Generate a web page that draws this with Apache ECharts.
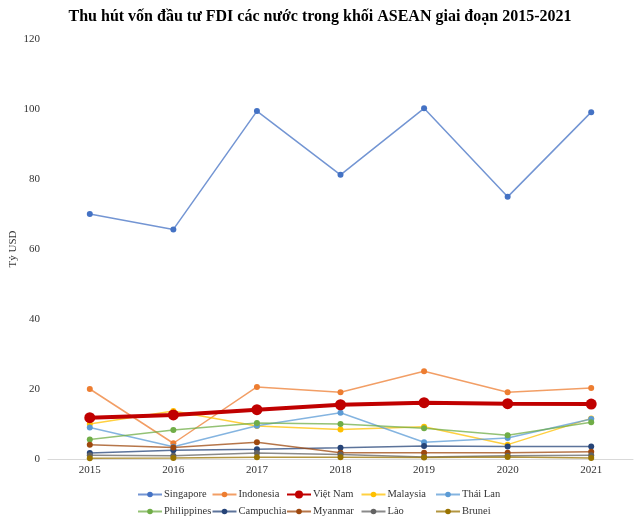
<!DOCTYPE html>
<html><head><meta charset="utf-8">
<script src="https://cdn.jsdelivr.net/npm/echarts@6/dist/echarts.min.js"></script>
<style>html,body{margin:0;padding:0;background:#fff}#c{width:640px;height:522px}</style>
</head><body><div id="c"></div>
<script>
const years = ['2015','2016','2017','2018','2019','2020','2021'];
const singapore   = [70.0, 65.6, 99.4, 81.2, 100.2, 74.9, 99.1];
const indonesia   = [20.0, 4.5, 20.6, 19.1, 25.1, 19.1, 20.3];
const vietnam     = [11.8, 12.6, 14.1, 15.5, 16.1, 15.8, 15.7];
const malaysia    = [10.0, 13.7, 9.4, 8.4, 9.2, 4.1, 11.6];
const thailan     = [9.0, 3.5, 9.5, 13.2, 4.8, 6.0, 11.4];
const philippines = [5.6, 8.3, 10.3, 10.0, 8.8, 6.8, 10.5];
const campuchia   = [1.7, 2.5, 2.8, 3.2, 3.7, 3.6, 3.6];
const myanmar     = [4.1, 3.3, 4.8, 1.8, 1.8, 1.8, 2.1];
const lao         = [1.1, 0.9, 1.7, 1.3, 0.6, 0.9, 1.1];
const brunei      = [0.2, 0.3, 0.5, 0.5, 0.4, 0.6, 0.3];
const yTicks = [0, 20, 40, 60, 80, 100, 120];

const defs = [
  ['Singapore', singapore, '#4472C4'],
  ['Indonesia', indonesia, '#ED7D31'],
  ['Việt Nam', vietnam, '#C00000'],
  ['Malaysia', malaysia, '#FFC000'],
  ['Thái Lan', thailan, '#5B9BD5'],
  ['Philippines', philippines, '#70AD47'],
  ['Campuchia', campuchia, '#264478'],
  ['Myanmar', myanmar, '#9E480E'],
  ['Lào', lao, '#636363'],
  ['Brunei', brunei, '#997300']
];
const font = 'Liberation Serif';
const series = defs.map(([name, data, color]) => {
  const vn = name === 'Việt Nam';
  return {
    name, type: 'line', data,
    symbol: 'circle', symbolSize: vn ? 11 : 6,
    itemStyle: {color},
    lineStyle: {color, width: vn ? 4 : 1.5, opacity: vn ? 1 : 0.75},
    z: vn ? 3 : 2
  };
});
// one legend per item so the columns line up
const legends = defs.map(([name], i) => {
  const vn = name === 'Việt Nam';
  return {
    left: 132 + (i % 5) * 74.5, top: i < 5 ? 484 : 501,
    itemWidth: 24, itemHeight: vn ? 10 : 7, itemGap: 0,
    textStyle: {fontFamily: font, fontSize: 10.5, color: '#333', padding: [0,0,0,-3]},
    data: [name]
  };
});
const chart = echarts.init(document.getElementById('c'));
chart.setOption({
  animation: false,
  title: {text: 'Thu hút vốn đầu tư FDI các nước trong khối ASEAN giai đoạn 2015-2021',
    left: 'center', top: 4,
    textStyle: {fontFamily: font, fontSize: 16, fontWeight: 'bold', color: '#000'}},
  legend: legends,
  grid: {left: 48, right: 7, top: 39, bottom: 63, containLabel: false, outerBoundsMode: 'none'},
  xAxis: {type: 'category', data: years, boundaryGap: true,
    axisLine: {lineStyle: {color: '#D9D9D9', width: 1}}, axisTick: {show: false},
    axisLabel: {fontFamily: font, fontSize: 11, color: '#333', margin: 6}},
  yAxis: {type: 'value', min: yTicks[0], max: yTicks[yTicks.length-1], interval: 20,
    name: 'Tỷ USD', nameLocation: 'middle', nameGap: 29, nameMoveOverlap: false,
    nameTextStyle: {fontFamily: font, fontSize: 11, color: '#333'},
    axisLine: {show: false}, axisTick: {show: false}, splitLine: {show: false},
    axisLabel: {fontFamily: font, fontSize: 11, color: '#333', margin: 8}},
  series
});
</script></body></html>
